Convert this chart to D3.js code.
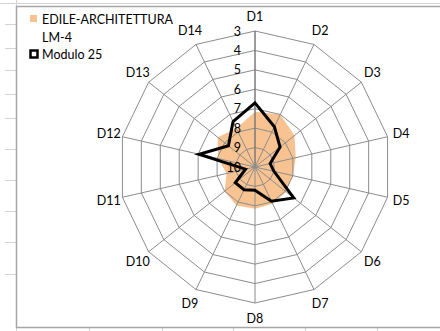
<!DOCTYPE html>
<html>
<head>
<meta charset="utf-8">
<script src="https://cdn.jsdelivr.net/npm/d3@7"></script>
<style>
  html, body { margin: 0; padding: 0; background: #fff; }
  svg { display: block; }
  text { font-family: Lato, "Open Sans", sans-serif; fill: #000; }
</style>
</head>
<body>
<svg id="chart" width="440" height="331"></svg>
<script>
// Dimensions D1..D14
const categories = ["D1","D2","D3","D4","D5","D6","D7","D8","D9","D10","D11","D12","D13","D14"];
// Filled series: degree course average
const edileArchitettura = [7.15, 7.0, 7.4, 7.85, 8.0, 7.95, 7.9, 7.85, 7.8, 8.0, 8.5, 8.05, 7.55, 7.8];
// Line series: module 25
const modulo25 = [6.7, 7.7, 8.35, 9.2, 9.0, 7.45, 8.05, 8.8, 8.7, 8.7, 9.5, 7.05, 8.25, 7.4];
// Radial value ticks (outer ring = 3, centre = 10)
const valueTicks = [3, 4, 5, 6, 7, 8, 9, 10];
const seriesNames = ["EDILE-ARCHITETTURA", "LM-4", "Modulo 25"];

const svg = d3.select("#chart");
const cx = 255, cy = 167, R = 136;

// Worksheet cell lines around the chart object
const sheet = svg.append("g").attr("stroke", "#d4d4d4").attr("stroke-width", 1);
sheet.append("line").attr("x1", 0).attr("x2", 440).attr("y1", 3.5).attr("y2", 3.5);
[24, 48, 70, 94, 118, 149, 180, 211, 242, 274].forEach(y =>
  sheet.append("line").attr("x1", 5).attr("x2", 16).attr("y1", y + 0.5).attr("y2", y + 0.5));
[16.5, 89.5, 162.5, 233.5, 305.5, 377.5].forEach(x =>
  sheet.append("line").attr("x1", x).attr("x2", x).attr("y1", 327).attr("y2", 331));
sheet.append("line").attr("x1", 16.5).attr("x2", 16.5).attr("y1", 0).attr("y2", 7);

// Chart frame
svg.append("path")
  .attr("d", "M440,6.5 H16.5 V327.5 H440")
  .attr("fill", "none").attr("stroke", "#a6a6a6").attr("stroke-width", 1.5);

const r = d3.scaleLinear().domain([10, 3]).range([0, R]);
const angle = d3.scalePoint().domain(categories).range([0, 2 * Math.PI * (categories.length - 1) / categories.length]);

const pt = (cat, v) => {
  const a = angle(cat);
  return [cx + r(v) * Math.sin(a), cy - r(v) * Math.cos(a)];
};

// Filled area
const closed = vals => categories.map((c, i) => pt(c, vals[i]));
svg.append("path")
  .attr("d", d3.line()(closed(edileArchitettura)) + "Z")
  .attr("fill", "#f9c391").attr("stroke", "none");

// Grid rings
const grid = svg.append("g").attr("fill", "none").attr("stroke", "#8c8c8c").attr("stroke-width", 1);
valueTicks.slice(0, -1).forEach(v => {
  grid.append("path").attr("d", d3.line()(categories.map(c => pt(c, v))) + "Z");
});
// Spokes
categories.forEach((c, i) => {
  const [x, y] = pt(c, 3);
  grid.append("line").attr("x1", cx).attr("y1", cy).attr("x2", x).attr("y2", y)
    .attr("stroke", i === 0 ? "#7a7a7a" : "#8c8c8c")
    .attr("stroke-width", i === 0 ? 1.5 : 1);
});

// Module line
svg.append("path")
  .attr("d", d3.line()(closed(modulo25)) + "Z")
  .attr("fill", "none").attr("stroke", "#000").attr("stroke-width", 3)
  .attr("stroke-linejoin", "miter");

// Value tick labels along D1
svg.append("g").selectAll("text").data(valueTicks).join("text")
  .attr("x", cx - 14).attr("y", v => cy - r(v) + 4.5)
  .attr("text-anchor", "end").attr("font-size", 12.5)
  .text(d => d);

// Category labels
svg.append("g").selectAll("text").data(categories).join("text")
  .attr("x", c => cx + 150 * Math.sin(angle(c)))
  .attr("y", c => cy - 151 * Math.cos(angle(c)) + 4.5)
  .attr("text-anchor", "middle").attr("font-size", 12.5)
  .text(d => d);

// Legend
const lg = svg.append("g");
lg.append("rect").attr("x", 30).attr("y", 15).attr("width", 7).attr("height", 7).attr("fill", "#f9c391");
lg.append("text").attr("x", 42).attr("y", 23.5).attr("font-size", 12.5).text(seriesNames[0]);
lg.append("text").attr("x", 42).attr("y", 42).attr("font-size", 12.5).text(seriesNames[1]);
lg.append("rect").attr("x", 30.5).attr("y", 50.5).attr("width", 7).attr("height", 7)
  .attr("fill", "#fff").attr("stroke", "#000").attr("stroke-width", 2.5);
lg.append("text").attr("x", 42).attr("y", 58.5).attr("font-size", 12.5).text(seriesNames[2]);
</script>
</body>
</html>
